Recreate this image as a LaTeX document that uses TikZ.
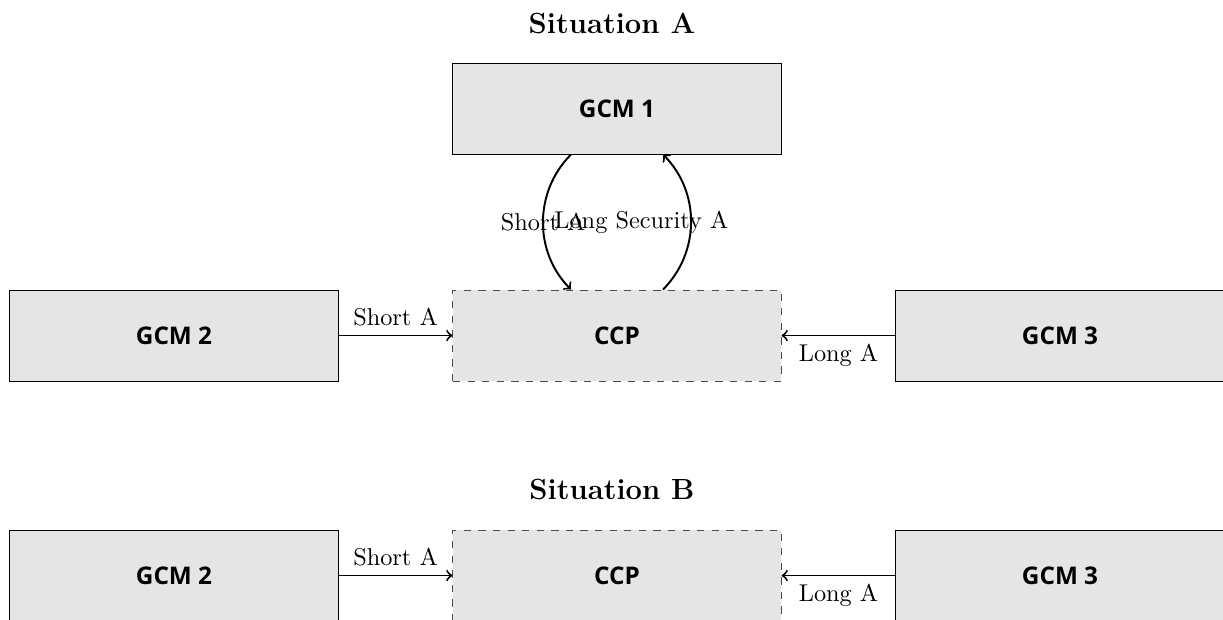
\documentclass[tikz,border=0pt]{standalone}
\usepackage{fontspec}
\usetikzlibrary{calc}
\newfontfamily\boxfont{Open Sans}
\begin{document}
\begin{tikzpicture}[x=0.4115pt,y=-0.4115pt,
  gcmbox/.style={draw=black,fill=black!10,minimum width=135pt,minimum height=37.45pt,font=\boxfont\bfseries,inner sep=0pt},
  ccpbox/.style={gcmbox,draw=black!70,dashed},
  titlenode/.style={font=\large\bfseries},
  conn/.style={->,thick},
  lbl/.style={font=\normalsize}]
\path[use as bounding box,clip] (0,0) rectangle (1223,619);
% Situation A
\node[titlenode] (titleA) at (612,23) {Situation A};
\node[gcmbox] (gcm1) at (617,108.5) {GCM 1};
\node[gcmbox] (gcm2) at (174,335.5) {GCM 2};
\node[ccpbox] (ccp) at (617,335.5) {CCP};
\node[gcmbox] (gcm3) at (1060,335.5) {GCM 3};
\draw[conn] (gcm2) -- node[above,lbl] {Short A} (ccp);
\draw[conn] (gcm3) -- node[below,lbl] {Long A} (ccp);
\coordinate (g1l) at ($(gcm1.south)+(-46,0)$);
\coordinate (g1r) at ($(gcm1.south)+(46,0)$);
\coordinate (cl) at ($(ccp.north)+(-46,0)$);
\coordinate (cr) at ($(ccp.north)+(46,0)$);
\draw[conn] (g1l) to[bend right=45] node[midway,lbl] {Short A} (cl);
\draw[conn] (cr) to[bend right=45] node[midway,lbl,xshift=-20.4pt] {Long Security A} (g1r);
% Situation B
\node[titlenode] (titleB) at (612,489) {Situation B};
\node[gcmbox] (gcm2b) at (174,575.5) {GCM 2};
\node[ccpbox] (ccpb) at (617,575.5) {CCP};
\node[gcmbox] (gcm3b) at (1060,575.5) {GCM 3};
\draw[conn] (gcm2b) -- node[above,lbl] {Short A} (ccpb);
\draw[conn] (gcm3b) -- node[below,lbl] {Long A} (ccpb);
\end{tikzpicture}
\end{document}
